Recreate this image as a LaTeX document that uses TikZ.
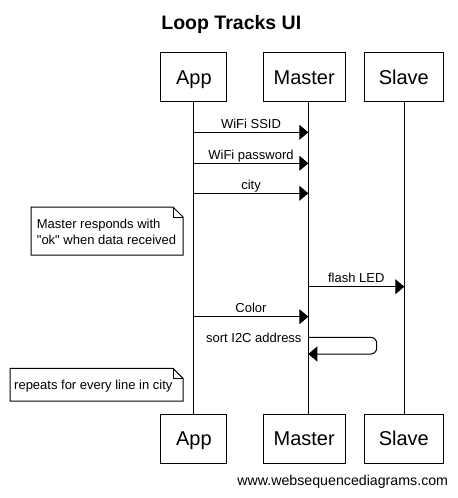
\documentclass[tikz,border=0pt]{standalone}
\usepackage{fontspec}
\setmainfont{Liberation Sans}[Ligatures=TeXOff]
\usetikzlibrary{arrows.meta}
\begin{document}
\begin{tikzpicture}[x=1bp,y=-1bp,
  actor/.style={draw,line width=1bp,minimum height=49bp,inner sep=0pt,
    font=\fontsize{20bp}{24bp}\selectfont,text height=14.4bp,text depth=0pt},
  life/.style={line width=1bp},
  msg/.style={line width=1bp,-{Triangle[length=9bp,width=15bp]}},
  lbl/.style={font=\fontsize{13bp}{15.6bp}\selectfont,inner sep=0pt,anchor=base},
  notetext/.style={font=\fontsize{13bp}{16bp}\selectfont,inner sep=0pt,anchor=base west,align=left},
  notebox/.style={line width=1bp}]
\useasboundingbox (0,0) rectangle (458,498);
\fill[white] (0,0) rectangle (458,498);
% title
\node[font=\bfseries\fontsize{19.5bp}{23bp}\selectfont,inner sep=0pt,anchor=base] (title) at (231.3,29.3) {Loop Tracks UI};
% actors top
\node[actor,minimum width=66bp] (at) at (193.9,77.5) {App};
\node[actor,minimum width=82bp] (mt) at (304.2,77.5) {Master};
\node[actor,minimum width=79bp] (st) at (403.8,77.5) {Slave};
% actors bottom
\node[actor,minimum width=66bp] (ab) at (193.9,438.7) {App};
\node[actor,minimum width=82bp] (mb) at (304.2,438.7) {Master};
\node[actor,minimum width=79bp] (sb) at (403.8,438.7) {Slave};
% lifelines
\draw[life] ([xshift=-0.2bp]at.south) -- ([xshift=-0.2bp]ab.north);
\draw[life] ([xshift=4.1bp]mt.south) -- ([xshift=4.1bp]mb.north);
\draw[life] ([xshift=0.5bp]st.south) -- ([xshift=0.5bp]sb.north);
% message endpoints
\coordinate (a1) at (193.7,132.3); \coordinate (m1) at (308.3,132.3);
\coordinate (a2) at (193.7,163.3); \coordinate (m2) at (308.3,163.3);
\coordinate (a3) at (193.7,193.3); \coordinate (m3) at (308.3,193.3);
\coordinate (m4) at (308.3,286.7); \coordinate (s4) at (404.3,286.7);
\coordinate (a5) at (193.7,316.7); \coordinate (m5) at (308.3,316.7);
\coordinate (m6) at (308.3,337.3); \coordinate (m7) at (308.3,354.0);
\coordinate (r6) at (376.7,337.3); \coordinate (r7) at (376.7,354.0);
% messages
\draw[msg] (a1) -- (m1);
\node[lbl] (l1) at (251,128.3) {WiFi SSID};
\draw[msg] (a2) -- (m2);
\node[lbl] (l2) at (251,159.3) {WiFi password};
\draw[msg] (a3) -- (m3);
\node[lbl] (l3) at (251,189.8) {city};
\draw[msg] (m4) -- (s4);
\node[lbl] (l4) at (356.3,282.0) {flash LED};
\draw[msg] (a5) -- (m5);
\node[lbl] (l5) at (251,312.2) {Color};
\draw[msg,rounded corners=6bp] (m6) -- (r6) -- (r7) -- (m7);
\node[lbl,anchor=base east] (l6) at (301.7,342.3) {sort I2C address};
% note 1
\draw[notebox] (31,207) -- (173,207) -- (183,217) -- (183,255) -- (31,255) -- cycle;
\draw[notebox] (173,207) -- (173,217) -- (183,217);
\node[notetext] (n1a) at (36.7,228.3) {Master responds with};
\node[notetext] (n1b) at (36.7,244.0) {"ok" when data received};
% note 2
\draw[notebox] (10,368.3) -- (173,368.3) -- (183,378.3) -- (183,401) -- (10,401) -- cycle;
\draw[notebox] (173,368.3) -- (173,378.3) -- (183,378.3);
\node[notetext] (n2) at (14,389.5) {repeats for every line in city};
% footer
\node[font=\fontsize{14.2bp}{17bp}\selectfont,inner sep=0pt,anchor=base east] (foot) at (448.3,485.5) {www.websequencediagrams.com};
\end{tikzpicture}
\end{document}
